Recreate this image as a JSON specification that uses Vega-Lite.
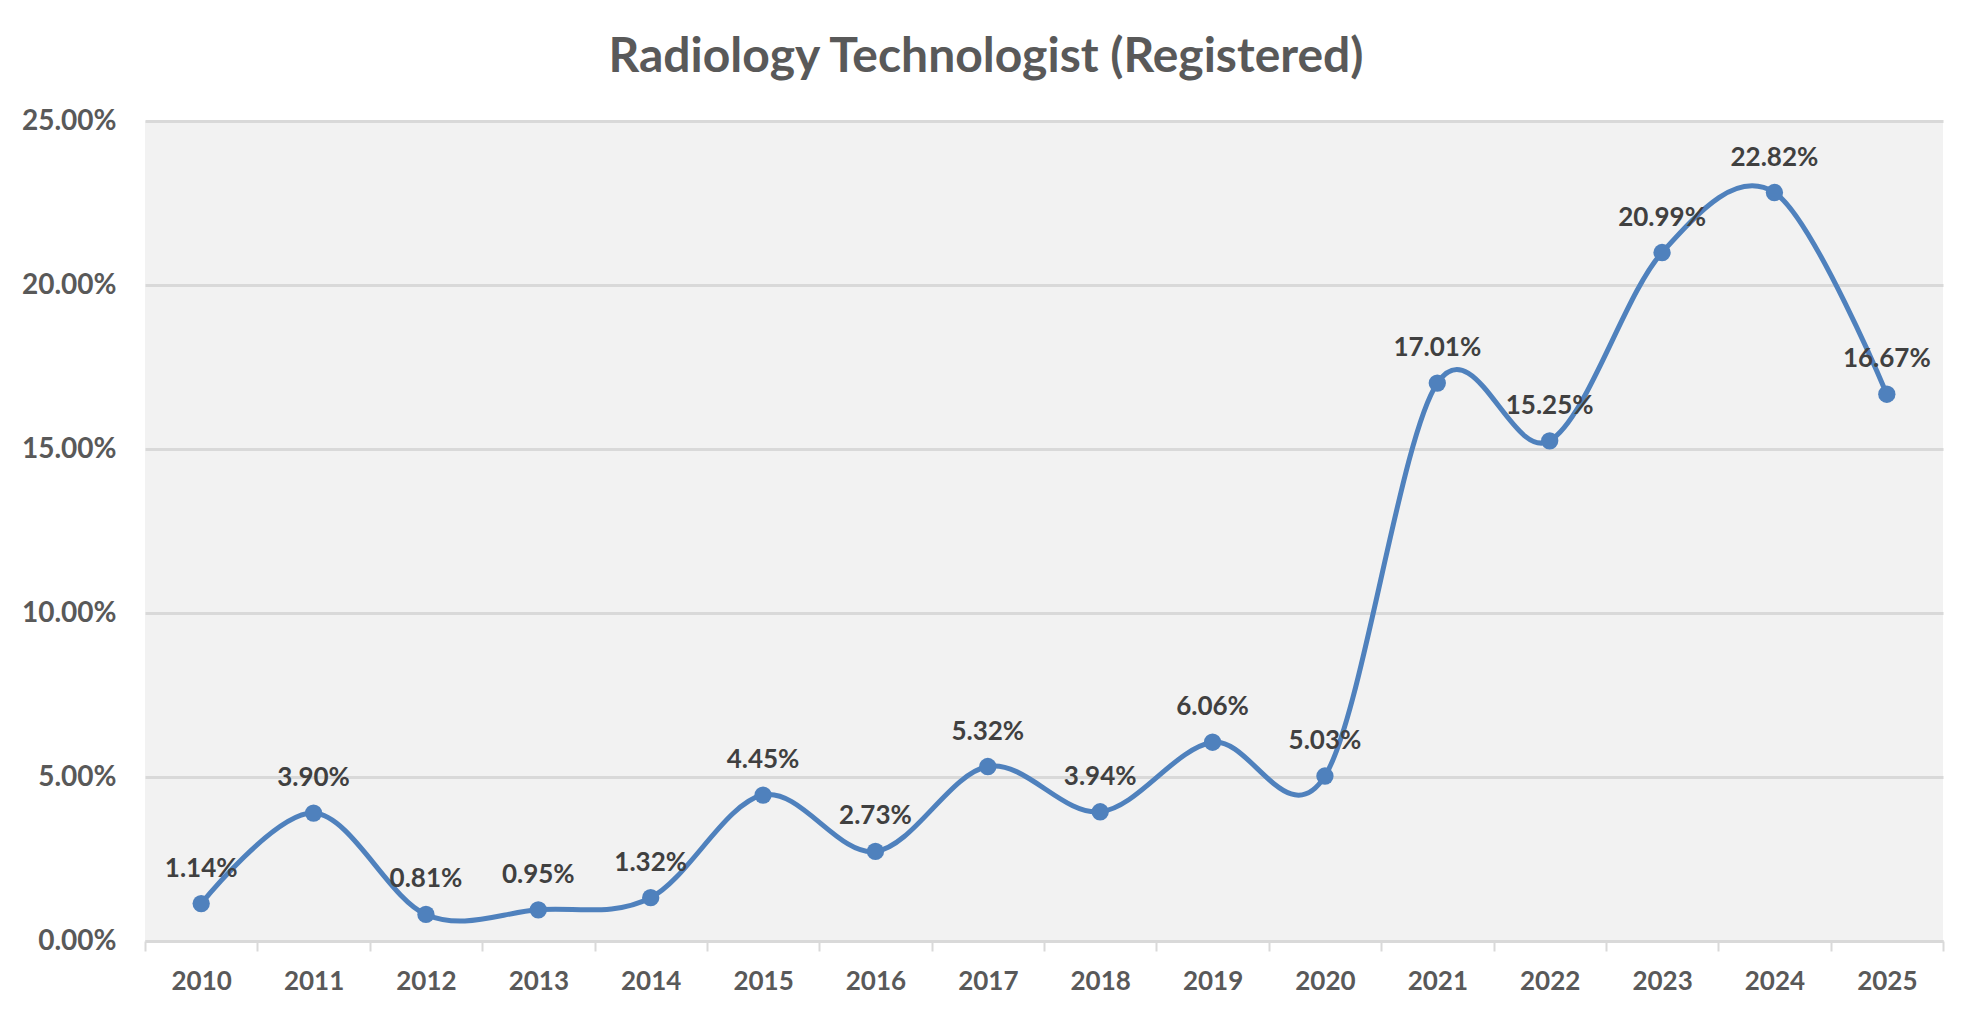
{
  "$schema": "https://vega.github.io/schema/vega-lite/v6.json",
  "autosize": {"type": "none"},
  "width": 1798,
  "height": 820,
  "padding": {"left": 145, "top": 121, "right": 36, "bottom": 71},
  "background": "white",
  "title": {
    "text": "Radiology Technologist (Registered)",
    "font": "Lato",
    "fontSize": 48,
    "fontWeight": "bold",
    "color": "#595959",
    "anchor": "middle",
    "baseline": "alphabetic",
    "offset": -13,
    "dx": -58
  },
  "config": {
    "view": {"fill": "#f2f2f2", "stroke": null},
    "font": "Lato"
  },
  "data": {
    "values": [
      {"year": "2010", "value": 0.0114},
      {"year": "2011", "value": 0.0390},
      {"year": "2012", "value": 0.0081},
      {"year": "2013", "value": 0.0095},
      {"year": "2014", "value": 0.0132},
      {"year": "2015", "value": 0.0445},
      {"year": "2016", "value": 0.0273},
      {"year": "2017", "value": 0.0532},
      {"year": "2018", "value": 0.0394},
      {"year": "2019", "value": 0.0606},
      {"year": "2020", "value": 0.0503},
      {"year": "2021", "value": 0.1701},
      {"year": "2022", "value": 0.1525},
      {"year": "2023", "value": 0.2099},
      {"year": "2024", "value": 0.2282},
      {"year": "2025", "value": 0.1667}
    ]
  },
  "encoding": {
    "x": {
      "field": "year",
      "type": "ordinal",
      "scale": {"paddingInner": 0, "paddingOuter": 0},
      "axis": {
        "title": null,
        "labelAngle": 0,
        "labelFont": "Lato",
        "labelFontSize": 26,
        "labelFontWeight": "bold",
        "labelColor": "#595959",
        "labelBaseline": "middle",
        "labelPadding": 30,
        "tickBand": "extent",
        "tickSize": 10,
        "tickColor": "#d9d9d9",
        "tickWidth": 2,
        "domainColor": "#d9d9d9",
        "domainWidth": 3,
        "grid": false
      }
    },
    "y": {
      "field": "value",
      "type": "quantitative",
      "scale": {"domain": [0, 0.25]},
      "axis": {
        "title": null,
        "values": [0, 0.05, 0.1, 0.15, 0.2, 0.25],
        "format": ".2%",
        "labelFont": "Lato",
        "labelFontSize": 28,
        "labelFontWeight": "bold",
        "labelColor": "#595959",
        "labelPadding": 29,
        "ticks": false,
        "domain": false,
        "grid": true,
        "gridColor": "#d9d9d9",
        "gridWidth": 3
      }
    }
  },
  "layer": [
    {
      "mark": {"type": "line", "interpolate": "cardinal", "color": "#4f81bd", "strokeWidth": 5}
    },
    {
      "mark": {"type": "point", "filled": true, "color": "#4f81bd", "size": 300, "opacity": 1}
    },
    {
      "mark": {"type": "text", "font": "Lato", "fontSize": 26, "fontWeight": "bold", "color": "#404040", "baseline": "middle", "dy": -35},
      "encoding": {
        "text": {"field": "value", "type": "quantitative", "format": ".2%"}
      }
    }
  ]
}
